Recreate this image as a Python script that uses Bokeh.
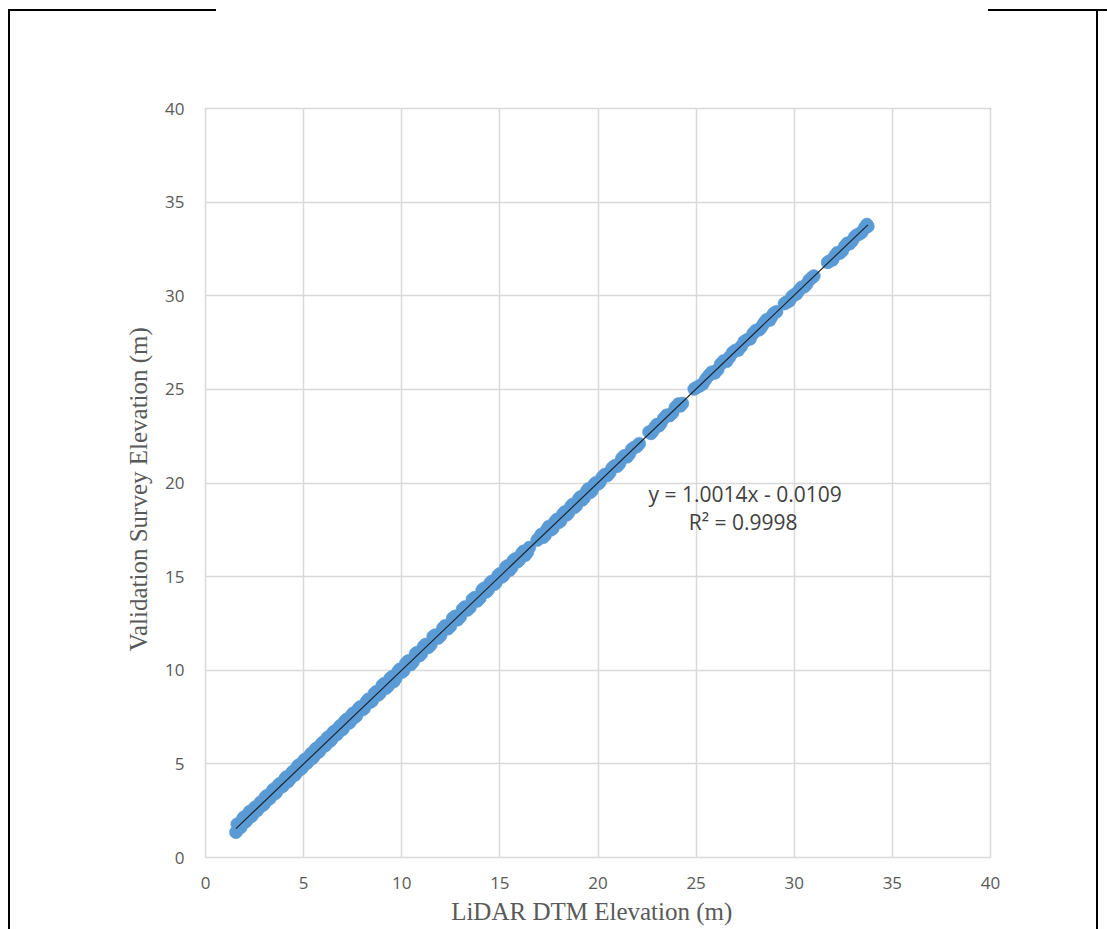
import numpy as np
from bokeh.plotting import figure
from bokeh.models import ColumnDataSource, Label, FixedTicker, Range1d
from bokeh.embed import file_html
from bokeh.resources import INLINE

# ---- data ----
lidar_dtm = [1.55, 1.62, 1.8, 1.95, 2.1, 2.25, 2.4, 2.55, 2.7, 2.9, 3.05, 3.2, 3.4, 3.55, 3.7, 3.9,
             4.05, 4.2, 4.4, 4.55, 4.7, 4.85, 5.0, 5.15, 5.3, 5.45, 5.6, 5.75, 5.9, 6.05, 6.2, 6.35,
             6.5, 6.65, 6.8, 6.95, 7.1, 7.3, 7.45, 7.6, 7.8, 8.0, 8.2, 8.4, 8.6, 8.8, 9.0, 9.2, 9.4,
             9.6, 9.8, 10.0, 10.2, 10.45, 10.7, 10.9, 11.1, 11.35, 11.6, 11.85, 12.1, 12.35, 12.6,
             12.85, 13.1, 13.35, 13.6, 13.85, 14.1, 14.3, 14.5, 14.7, 14.9, 15.1, 15.3, 15.5, 15.7,
             15.9, 16.1, 16.3, 16.5, 16.9, 17.1, 17.3, 17.5, 17.7, 17.9, 18.1, 18.3, 18.5, 18.7, 18.9,
             19.1, 19.3, 19.5, 19.7, 19.9, 20.1, 20.35, 20.6, 20.85, 21.1, 21.35, 21.6, 21.85, 22.1,
             22.6, 22.8, 23.0, 23.2, 23.5, 23.8, 24.1, 24.3, 24.9, 25.2, 25.5, 25.8, 26.1, 26.4, 26.7,
             27.0, 27.3, 27.6, 27.9, 28.2, 28.4, 28.6, 28.85, 29.1, 29.5, 29.75, 30.0, 30.25, 30.5,
             30.75, 31.0, 31.7, 31.95, 32.2, 32.45, 32.7, 32.95, 33.2, 33.45, 33.7,
             1.7, 1.88, 2.03, 2.18, 2.33, 2.48, 2.62, 2.8, 2.98, 3.13, 3.3, 3.48, 3.62, 3.8, 3.97, 4.12,
             4.3, 4.48, 4.62, 4.78, 4.93, 5.08, 5.22, 5.38, 5.52, 5.68, 5.82, 5.98, 6.12, 6.28, 6.42,
             6.58, 6.72, 6.88, 7.02, 7.2, 7.38, 7.52, 7.7, 7.9, 8.1, 8.3, 8.5, 8.7, 8.9, 9.1, 9.3, 9.5,
             9.7, 9.9, 10.1, 10.33, 10.58, 10.8, 11.0, 11.22, 11.48, 11.72, 11.98, 12.22, 12.48, 12.72,
             12.98, 13.22, 13.48, 13.72, 13.98, 14.2, 14.4, 14.6, 14.8, 15.0, 15.2, 15.4, 15.6, 15.8,
             16.0, 16.2, 16.4,
             17.0, 17.2, 17.4, 17.6, 17.8, 18.0, 18.2, 18.4, 18.6, 18.8, 19.0, 19.2, 19.4, 19.6, 19.8,
             20.0, 20.22, 20.48, 20.72, 20.98, 21.22, 21.48, 21.72, 21.98, 22.7, 22.9, 23.1, 23.35,
             23.65, 23.95, 24.2, 25.05, 25.35, 25.65, 25.95, 26.25, 26.55, 26.85, 27.15, 27.45, 27.75,
             28.05, 28.3, 28.5, 28.75, 28.95, 29.6, 29.88, 30.12, 30.38, 30.62, 30.88, 31.8, 32.08,
             32.32, 32.58, 32.82, 33.08, 33.32, 33.58, 33.75]
survey_elev = [1.35, 1.78, 1.62, 2.15, 1.98, 2.45, 2.28, 2.70, 2.62, 2.78, 3.22, 3.10, 3.55, 3.42, 3.86, 3.78,
               4.20, 4.05, 4.52, 4.40, 4.88, 4.72, 5.15, 5.02, 5.42, 5.30, 5.78, 5.62, 6.05, 5.95, 6.38, 6.22,
               6.68, 6.55, 6.95, 6.82, 7.28, 7.18, 7.60, 7.48, 7.95, 7.90, 8.32, 8.30, 8.75, 8.68, 9.18, 9.05, 9.55,
               9.40, 9.92, 9.90, 10.35, 10.30, 10.88, 10.78, 11.25, 11.22, 11.80, 11.72, 12.25, 12.22, 12.78,
               12.70, 13.26, 13.22, 13.78, 13.70, 14.28, 14.18, 14.65, 14.58, 15.05, 14.98, 15.50, 15.35, 15.88,
               15.80, 16.22, 16.15, 16.55, 16.95, 17.25, 17.20, 17.68, 17.58, 18.05, 17.98, 18.45, 18.40, 18.85, 18.80,
               19.25, 19.22, 19.68, 19.60, 20.02, 20.05, 20.45, 20.55, 20.92, 21.05, 21.45, 21.55, 21.90, 22.10,
               22.72, 22.78, 23.12, 23.18, 23.62, 23.75, 24.22, 24.25, 25.02, 25.20, 25.55, 25.92, 26.05, 26.52, 26.72,
               27.08, 27.30, 27.65, 27.98, 28.18, 28.45, 28.72, 28.88, 29.15, 29.58, 29.72, 30.05, 30.30, 30.48,
               30.82, 31.05, 31.78, 31.92, 32.30, 32.40, 32.80, 32.92, 33.25, 33.40, 33.80,
               1.55, 2.02, 1.90, 2.32, 2.20, 2.62, 2.50, 2.95, 2.85, 3.30, 3.18, 3.65, 3.50, 3.95, 3.85, 4.30,
               4.18, 4.62, 4.50, 4.95, 4.80, 5.25, 5.10, 5.55, 5.40, 5.85, 5.70, 6.15, 6.00, 6.45, 6.30,
               6.75, 6.60, 7.05, 6.90, 7.38, 7.25, 7.70, 7.58, 8.05, 7.98, 8.45, 8.38, 8.85, 8.78, 9.28, 9.15, 9.65,
               9.58, 10.05, 9.98, 10.50, 10.45, 10.95, 10.88, 11.38, 11.35, 11.88, 11.85, 12.38, 12.35, 12.88,
               12.85, 13.38, 13.35, 13.88, 13.85, 14.38, 14.28, 14.75, 14.68, 15.15, 15.08, 15.58, 15.48, 15.95,
               15.90, 16.35, 16.30,
               17.05, 17.10, 17.52, 17.50, 17.92, 17.90, 18.32, 18.30, 18.72, 18.70, 19.12, 19.10, 19.52, 19.50, 19.92,
               19.95, 20.32, 20.40, 20.80, 20.90, 21.32, 21.40, 21.80, 21.95, 22.65, 22.98, 23.05, 23.45,
               23.60, 24.05, 24.12, 25.12, 25.30, 25.75, 25.88, 26.35, 26.50, 26.95, 27.10, 27.55, 27.70,
               28.15, 28.28, 28.60, 28.70, 29.05, 29.65, 29.95, 30.10, 30.45, 30.60, 30.95, 31.85, 32.15,
               32.28, 32.65, 32.78, 33.15, 33.30, 33.62, 33.70]
fit_slope = 1.0014
fit_intercept = -0.0109
x_ticks = [0, 5, 10, 15, 20, 25, 30, 35, 40]
y_ticks = [0, 5, 10, 15, 20, 25, 30, 35, 40]
eq_text = "y = 1.0014x - 0.0109"
r2_text = "R\u00b2 = 0.9998"
x_title = "LiDAR  DTM Elevation  (m)"
y_title = "Validation  Survey Elevation  (m)"

src = ColumnDataSource(dict(x=lidar_dtm, y=survey_elev))
fx = np.array([min(lidar_dtm), max(lidar_dtm)])
fit_src = ColumnDataSource(dict(x=fx, y=fit_slope * fx + fit_intercept))

p = figure(width=1107, height=929, output_backend="svg", toolbar_location=None,
           x_range=Range1d(0, 40), y_range=Range1d(0, 40),
           min_border_left=205, min_border_right=117, min_border_top=108, min_border_bottom=72)
p.background_fill_color = "white"
p.border_fill_alpha = 0
p.outline_line_color = "#d9d9d9"
p.outline_line_width = 1.5

# fragments of the page frame, drawn as CSS backgrounds behind the transparent border area
p.styles = {
    "background-color": "white",
    "background-image": ("linear-gradient(#000,#000), linear-gradient(#000,#000), "
                         "linear-gradient(#000,#000), linear-gradient(#000,#000)"),
    "background-size": "208px 2px, 119px 2px, 2px 921px, 2px 921px",
    "background-position": "8px 9px, 988px 9px, 8px 9px, 1096px 9px",
    "background-repeat": "no-repeat",
}

grid_col = "#d9d9d9"
p.xgrid.ticker = FixedTicker(ticks=x_ticks)
p.ygrid.ticker = FixedTicker(ticks=y_ticks)
for g in (p.xgrid, p.ygrid):
    g.grid_line_color = grid_col
    g.grid_line_width = 1.5

for ax, ticks in ((p.xaxis, x_ticks), (p.yaxis, y_ticks)):
    ax.ticker = FixedTicker(ticks=ticks)
    ax.axis_line_color = None
    ax.major_tick_line_color = None
    ax.minor_tick_line_color = None
    ax.major_tick_out = 0
    ax.major_tick_in = 0
    ax.major_label_text_font = "Open Sans"
    ax.major_label_text_font_size = "17px"
    ax.major_label_text_color = "#595959"
    ax.axis_label_text_font = "Liberation Serif"
    ax.axis_label_text_font_size = "25px"
    ax.axis_label_text_font_style = "normal"
    ax.axis_label_text_color = "#595959"

p.xaxis.axis_label = x_title
p.yaxis.axis_label = y_title
p.xaxis.major_label_standoff = 19
p.yaxis.major_label_standoff = 21
p.xaxis.axis_label_standoff = 6
p.yaxis.axis_label_standoff = 10

p.scatter("x", "y", source=src, size=13, fill_color="#5b9bd5", line_color="#5b9bd5", line_width=0.5)
p.line("x", "y", source=fit_src, line_color="#1c2530", line_width=1.2)

p.add_layout(Label(x=27.5, y=19.4, text=eq_text, text_align="center", text_baseline="middle",
                   text_font="Open Sans", text_font_size="21px", text_color="#404040"))
p.add_layout(Label(x=27.4, y=17.9, text=r2_text, text_align="center", text_baseline="middle",
                   text_font="Open Sans", text_font_size="21px", text_color="#404040"))

open("out.html", "w").write(file_html(p, INLINE))
